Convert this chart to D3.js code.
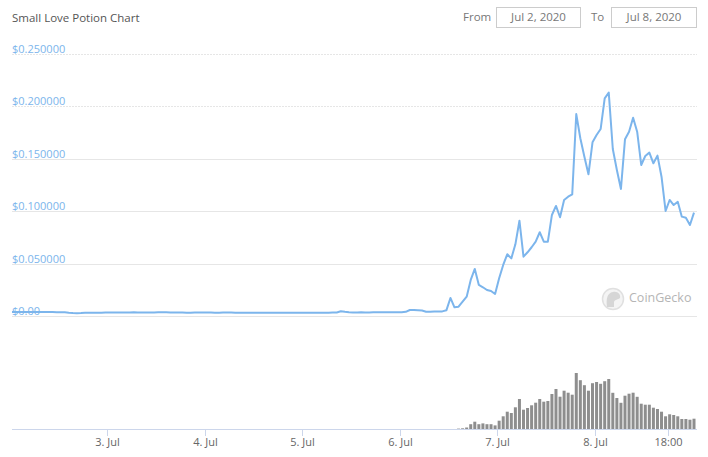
<!DOCTYPE html>
<html><head><meta charset="utf-8">
<script src="https://cdn.jsdelivr.net/npm/d3@7"></script>
<style>body{margin:0;background:#fff}svg{display:block}</style>
</head><body>
<svg id="chart" width="708" height="457"></svg>
<script>
const chartTitle = "Small Love Potion Chart";
const fromText = "From", toText = "To";
const fromDate = "Jul 2, 2020", toDate = "Jul 8, 2020";
const watermark = "CoinGecko";
const startTime = Date.UTC(2020, 6, 2, 0, 30); // first hourly sample
const prices = [
  0.0038,0.0038,0.0039,0.0038,0.0037,0.0038,0.0038,0.0037,0.0037,0.0038,0.0037,0.0036,0.0036,0.0035,
  0.0031,0.0028,0.0027,0.0028,0.0030,0.0031,0.0031,
  0.0032,0.0032,0.0033,0.0033,0.0034,0.0034,0.0033,0.0034,0.0034,0.0035,0.0034,0.0034,0.0033,0.0033,0.0034,0.0035,0.0036,0.0035,0.0034,0.0034,
  0.0033,0.0033,0.0032,0.0032,0.0033,0.0034,0.0034,0.0033,0.0033,0.0032,0.0032,0.0033,0.0034,0.0033,0.0032,0.0031,0.0031,0.0032,0.0032,0.0031,
  0.0030,0.0030,0.0031,0.0032,0.0031,0.0031,0.0032,0.0032,0.0031,0.0030,0.0030,0.0031,0.0031,0.0032,0.0032,0.0031,0.0031,0.0032,0.0033,0.0034,
  0.0045,0.0040,0.0036,0.0034,0.0034,0.0035,0.0034,0.0034,0.0035,0.0035,0.0036,0.0036,0.0036,0.0036,
  0.0035,0.0036,0.0040,0.0057,0.0058,0.0056,0.0052,0.0041,0.0040,0.0042,0.0043,0.0044,0.0054,
  0.0172,0.0083,0.0089,0.0137,0.0184,0.0344,0.0449,0.0296,0.0274,0.0248,
  0.0239,0.0210,0.0360,0.0487,0.0589,0.0550,0.0684,0.0909,0.0566,0.0608,
  0.0656,0.0709,0.0799,0.0709,0.0709,0.0964,0.1050,0.0942,0.1107,0.1138,
  0.1160,0.1927,0.1696,0.1520,0.1352,0.1657,0.1727,0.1784,0.2077,0.2131,
  0.1594,0.1393,0.1212,0.1686,0.1759,0.1892,0.1759,0.1441,0.1527,0.1559,
  0.1457,0.1530,0.1329,0.1002,0.1107,0.1059,0.1090,0.0948,0.0938,0.0868,
  0.0986
];
// hourly volume, USD millions
const volumes = [
  0,0,0,0,0,0,0,0,0,0,0,0,0,0,0,0,0,0,0,0,
  0,0,0,0,0,0,0,0,0,0,0,0,0,0,0,0,0,0,0,0,
  0,0,0,0,0,0,0,0,0,0,0,0,0,0,0,0,0,0,0,0,
  0,0,0,0,0,0,0,0,0,0,0,0,0,0,0,0,0,0,0,0,
  0,0,0,0,0,0,0,0,0,0,0,0,0,0,0,0,0,0,0,0,
  0,0,0,0,0,0,0,0,0,0,
  0.04,0.07,0.15,0.48,0.73,0.48,0.56,0.48,0.48,0.36,
  0.83,1.27,1.73,1.60,2.17,3.00,1.93,2.10,2.37,2.63,
  3.00,2.73,2.80,3.50,4.00,3.23,3.83,3.63,3.43,5.60,
  4.88,4.38,3.83,4.58,4.70,4.52,4.78,5.00,3.62,3.10,
  2.62,3.33,3.53,3.63,3.22,2.53,2.43,2.43,2.13,2.00,
  1.73,1.27,1.47,1.40,1.27,1.00,1.00,0.93,1.03
];
const priceTicks = [0, 0.05, 0.10, 0.15, 0.20, 0.25];
const priceTickLabels = ["$0.00","$0.050000","$0.100000","$0.150000","$0.200000","$0.250000"];
const timeTicks = [Date.UTC(2020,6,3), Date.UTC(2020,6,4), Date.UTC(2020,6,5), Date.UTC(2020,6,6), Date.UTC(2020,6,7), Date.UTC(2020,6,8), Date.UTC(2020,6,8,18)];
const timeTickLabels = ["3. Jul","4. Jul","5. Jul","6. Jul","7. Jul","8. Jul","18:00"];

const times = prices.map((_, i) => new Date(startTime + i * 3600e3));
const svg = d3.select("#chart");
const font = "'Open Sans', sans-serif";

const x = d3.scaleUtc().domain([times[0], times[times.length - 1]]).range([12, 694]);
const y = d3.scaleLinear().domain([0, 0.25]).range([316, 54]);
const yv = d3.scaleLinear().domain([0, 10]).range([429, 329]);

// title
svg.append("text").attr("x", 12).attr("y", 22).text(chartTitle)
  .attr("font-family", font).attr("font-size", 11.5).attr("fill", "#555");

// range inputs
const g = svg.append("g").attr("font-family", font).attr("font-size", 11.5).attr("fill", "#777");
g.append("text").attr("x", 463).attr("y", 21).text(fromText);
g.append("rect").attr("x", 496.5).attr("y", 7.5).attr("width", 84).attr("height", 20).attr("fill", "#fff").attr("stroke", "#ccc");
g.append("text").attr("x", 538.5).attr("y", 21).attr("text-anchor", "middle").text(fromDate);
g.append("text").attr("x", 591).attr("y", 21).text(toText);
g.append("rect").attr("x", 611.5).attr("y", 7.5).attr("width", 85).attr("height", 20).attr("fill", "#fff").attr("stroke", "#ccc");
g.append("text").attr("x", 654).attr("y", 21).attr("text-anchor", "middle").text(toDate);

// grid + y labels
const grid = svg.append("g");
priceTicks.forEach((t, i) => {
  grid.append("line").attr("x1", 12).attr("x2", 697).attr("y1", Math.round(y(t)) + 0.5).attr("y2", Math.round(y(t)) + 0.5)
    .attr("stroke", "#e6e6e6").attr("stroke-dasharray", t >= 0.2 ? "2,1" : null);
  grid.append("text").attr("x", 12).attr("y", y(t) - 1).text(priceTickLabels[i])
    .attr("font-family", font).attr("font-size", 11).attr("fill", "#7cb5ec");
});

// watermark
const wm = svg.append("g");
wm.append("circle").attr("cx", 613).attr("cy", 299).attr("r", 10.5).attr("fill", "#f4f4f4").attr("stroke", "#e0e0e0").attr("stroke-width", 1.5);
wm.append("path").attr("d", "M607,307 C606,299 607,293 613,292 C618,291 621,295 620,298 C618,300 615,299 614,302 L614,307 Z").attr("fill", "#d6d6d6");
wm.append("text").attr("x", 629).attr("y", 301.5).text(watermark)
  .attr("font-family", font).attr("font-size", 12.5).attr("fill", "#b5b5b5");

// volume bars
svg.append("g").selectAll("rect").data(volumes.map((v, i) => ({v, t: times[i]})).filter(d => d.v > 0))
  .join("rect")
  .attr("x", d => x(d.t) - 1.5).attr("width", 3)
  .attr("y", d => yv(d.v)).attr("height", d => yv(0) - yv(d.v))
  .attr("fill", "#8e8e8e");

// x axis
svg.append("line").attr("x1", 12).attr("x2", 697).attr("y1", 429.5).attr("y2", 429.5).attr("stroke", "#ccd6eb");
const ax = svg.append("g");
timeTicks.forEach((t, i) => {
  const px = Math.round(x(new Date(t))) + 0.5;
  ax.append("line").attr("x1", px).attr("x2", px).attr("y1", 429).attr("y2", 436).attr("stroke", "#ccd6eb");
  ax.append("text").attr("x", px).attr("y", 446).attr("text-anchor", "middle").text(timeTickLabels[i])
    .attr("font-family", font).attr("font-size", 11).attr("fill", "#666");
});

// price line
const line = d3.line().x((d, i) => x(times[i])).y(d => y(d));
svg.append("path").datum(prices).attr("d", line).attr("fill", "none")
  .attr("stroke", "#7cb5ec").attr("stroke-width", 2).attr("stroke-linejoin", "round");
</script>
</body></html>
